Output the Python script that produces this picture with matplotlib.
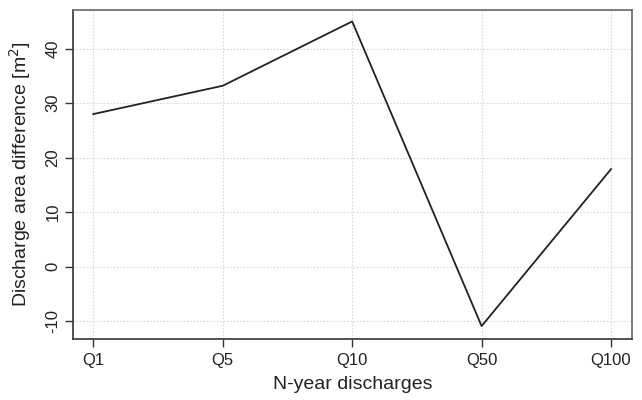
import matplotlib
matplotlib.use("Agg")
import matplotlib.pyplot as plt

# N-year discharge scenarios and the change in discharge area
categories = ["Q1", "Q5", "Q10", "Q50", "Q100"]
area_difference = [28.0, 33.2, 45.0, -10.9, 17.9]
y_ticks = [-10, 0, 10, 20, 30, 40]

plt.rcParams["font.family"] = ["Liberation Sans", "DejaVu Sans"]

fig = plt.figure(figsize=(6.42, 4.00), dpi=100)
ax = fig.add_axes([73 / 642, 1 - 339 / 400, (632 - 73) / 642, (339 - 10) / 400])

x = list(range(1, len(categories) + 1))
ax.plot(x, area_difference, color="#222222", linewidth=1.3, zorder=3)

ax.set_xlim(0.843, 5.162)
ax.set_ylim(-13.27, 47.1)
ax.set_xticks(x)
ax.set_xticklabels(categories)
ax.set_yticks(y_ticks)
ax.set_yticklabels([str(t) for t in y_ticks], rotation=90, va="center")

ax.grid(True, color="#d9d9d9", linestyle=(0, (1.5, 1.5)), linewidth=0.8, zorder=0)

for side in ("left", "bottom"):
    ax.spines[side].set_color("#333333")
    ax.spines[side].set_linewidth(1.2)
for side in ("top", "right"):
    ax.spines[side].set_color("#666666")
    ax.spines[side].set_linewidth(1.2)

ax.tick_params(axis="both", direction="out", length=6, width=1.0,
               color="#333333", labelsize=12, labelcolor="#222222")
ax.tick_params(axis="x", pad=4)
ax.tick_params(axis="y", pad=3)

ax.set_xlabel("N-year discharges", fontsize=14, color="#222222", labelpad=6)
ax.set_ylabel("Discharge area difference [m$^2$]", fontsize=14,
              color="#222222", labelpad=9)

fig.savefig("out.png", dpi=100)
